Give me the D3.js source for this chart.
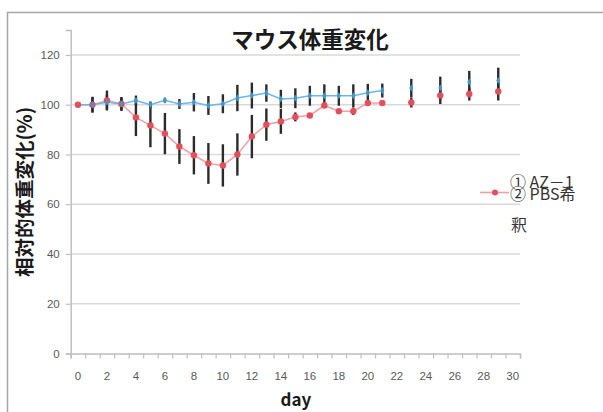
<!DOCTYPE html>
<html>
<head>
<meta charset="utf-8">
<script src="https://cdn.jsdelivr.net/npm/d3@7"></script>
<style>
  html, body { margin: 0; padding: 0; background: #fff; }
  svg { display: block; }
</style>
</head>
<body>
<svg id="chart" width="603" height="412"></svg>
<script>
// Days after treatment (0–29); after day 21 only odd days were measured
const days = d3.range(0, 30);

// ① AZ-1 group: relative body weight (%) and error
const azValues = [100, 100, 101, 100.3, 101.7, 100, 101.8, 100.3, 101, 99.7,
  100.4, 102.7, 103.7, 104.7, 102.3, 102.6, 103.6, 103.6, 103.6, 103.6,
  104.8, 105.7, null, 106.7, null, 106.7, null, 109.1, null, 109.7];
const azErrors = [0, 3, 3, 2.5, 2, 1.3, 1, 2, 3.7, 3.8,
  3.8, 5.3, 5.2, 3.5, 3.7, 4, 4, 4.6, 4, 4.6,
  3.6, 2.8, null, 3.7, null, 4.6, null, 4.5, null, 5.2];

// ② PBS希釈 group
const pbsValues = [100, 100, 101.7, 100.3, 94.9, 91.7, 88.4, 83.2, 79.7, 76.4,
  75.6, 80, 87.2, 92, 93.3, 95.1, 95.7, 99.7, 97.4, 97.4,
  100.7, 100.7, null, 100.9, null, 103.7, null, 104.3, null, 105.3];
const pbsErrors = [0, 3.2, 4, 2.8, 7.5, 8.8, 8.3, 7, 7.7, 8.2,
  8.5, 8.5, 8.7, 6.5, 5, 1.8, 1, 1, 1, 1.5,
  1, 0.8, null, 2, null, 3.4, null, 2.6, null, 3.6];

const xTicks = d3.range(0, 31, 2);
const yTicks = [0, 20, 40, 60, 80, 100, 120];

const title = "マウス体重変化";
const yLabel = "相対的体重変化(%)";
const xLabel = "day";
const legendLabels = ["① AZ－1", "② PBS希", "釈"];

const svg = d3.select("#chart");

// outer chart frame
svg.append("rect")
  .attr("x", 7.5).attr("y", 12.5)
  .attr("width", 700).attr("height", 500)
  .attr("fill", "none").attr("stroke", "#a6a6a6").attr("stroke-width", 1.5);

const x = d3.scaleLinear().domain([-0.5, 30.5]).range([70.7, 520]);
const y = d3.scaleLinear().domain([0, 130]).range([353.5, 30.1]);

// horizontal gridlines
svg.append("g")
  .selectAll("line")
  .data(yTicks.filter(t => t > 0))
  .join("line")
  .attr("x1", x(-0.5)).attr("x2", x(30.5))
  .attr("y1", d => y(d)).attr("y2", d => y(d))
  .attr("stroke", "#d9d9d9").attr("stroke-width", 1.5);

// y axis
const yAxis = svg.append("g")
  .attr("transform", `translate(${x(-0.5)},0)`)
  .call(d3.axisLeft(y).tickValues(yTicks).tickSize(5).tickPadding(6).tickFormat(d3.format("d")));
yAxis.select(".domain").attr("stroke", "#bfbfbf").attr("stroke-width", 1.5);
yAxis.selectAll(".tick line").attr("stroke", "#bfbfbf").attr("stroke-width", 1.2);
yAxis.selectAll(".tick text")
  .attr("fill", "#595959")
  .style("font-family", "'Liberation Sans', Arial, sans-serif")
  .style("font-size", "11.5px");

// x axis: category-style ticks between days, labels every two days
const xAxis = svg.append("g")
  .attr("transform", `translate(0,${y(0)})`)
  .call(d3.axisBottom(x).tickValues(d3.range(-0.5, 31, 1)).tickSize(5).tickFormat(""));
xAxis.select(".domain").attr("stroke", "#bfbfbf").attr("stroke-width", 1.5);
xAxis.selectAll(".tick line").attr("stroke", "#bfbfbf").attr("stroke-width", 1.2);

svg.append("g")
  .selectAll("text")
  .data(xTicks)
  .join("text")
  .attr("x", d => x(d))
  .attr("y", y(0) + 26)
  .attr("text-anchor", "middle")
  .attr("fill", "#595959")
  .style("font-family", "'Liberation Sans', Arial, sans-serif")
  .style("font-size", "11.5px")
  .text(d => d);

// build series records
function series(values, errors) {
  return days.map((d, i) => ({ day: d, v: values[i], e: errors[i] }));
}
const az = series(azValues, azErrors);
const pbs = series(pbsValues, pbsErrors);

// error bars
function drawErrors(data) {
  svg.append("g")
    .selectAll("line")
    .data(data.filter(d => d.v != null && d.e > 0))
    .join("line")
    .attr("x1", d => x(d.day)).attr("x2", d => x(d.day))
    .attr("y1", d => y(d.v + d.e)).attr("y2", d => y(d.v - d.e))
    .attr("stroke", "#2b2b2b").attr("stroke-width", 2.4);
}
drawErrors(pbs);
drawErrors(az);

const line = d3.line()
  .defined(d => d.v != null)
  .x(d => x(d.day))
  .y(d => y(d.v));

const pbsColor = "#e2505c";
const azColor = "#3d97d6";

// PBS line
svg.append("path")
  .datum(pbs)
  .attr("d", line)
  .attr("fill", "none")
  .attr("stroke", "#f2a0a5")
  .attr("stroke-width", 1.6);

// AZ-1 line
svg.append("path")
  .datum(az)
  .attr("d", line)
  .attr("fill", "none")
  .attr("stroke", "#6fb6e6")
  .attr("stroke-width", 1.6);

svg.append("g")
  .selectAll("circle")
  .data(pbs.filter(d => d.v != null))
  .join("circle")
  .attr("cx", d => x(d.day))
  .attr("cy", d => y(d.v))
  .attr("r", 3.2)
  .attr("fill", pbsColor);

svg.append("g")
  .selectAll("path")
  .data(az.filter(d => d.v != null && d.day > 0))
  .join("path")
  .attr("d", d3.symbol(d3.symbolDiamond, 14))
  .attr("transform", d => `translate(${x(d.day)},${y(d.v)})`)
  .attr("fill", azColor);

// title
svg.append("text")
  .attr("x", 310).attr("y", 48)
  .attr("text-anchor", "middle")
  .style("font-family", "'Noto Sans CJK JP', sans-serif")
  .style("font-weight", "bold")
  .style("font-size", "22.5px")
  .attr("fill", "#1a1a1a")
  .text(title);

// y-axis title
svg.append("text")
  .attr("transform", "translate(32,192) rotate(-90)")
  .attr("text-anchor", "middle")
  .style("font-family", "'Noto Sans CJK JP', sans-serif")
  .style("font-weight", "bold")
  .style("font-size", "19.5px")
  .attr("fill", "#1a1a1a")
  .text(yLabel);

// x-axis title
svg.append("text")
  .attr("x", 296).attr("y", 406)
  .attr("text-anchor", "middle")
  .style("font-family", "'Noto Sans CJK JP', sans-serif")
  .style("font-weight", "bold")
  .style("font-size", "17px")
  .attr("fill", "#1a1a1a")
  .text(xLabel);

// legend (entries crowd each other in the narrow legend box)
const legend = svg.append("g");
legend.append("line")
  .attr("x1", 480).attr("x2", 509)
  .attr("y1", 192.5).attr("y2", 192.5)
  .attr("stroke", "#f2a0a5").attr("stroke-width", 1.6);
legend.append("circle")
  .attr("cx", 495).attr("cy", 192.5).attr("r", 3)
  .attr("fill", pbsColor);

const legendFont = "'Noto Sans CJK JP', sans-serif";
legend.selectAll("text")
  .data(legendLabels)
  .join("text")
  .attr("x", (d, i) => i === 2 ? 511 : 510)
  .attr("y", (d, i) => [188, 200, 231][i])
  .style("font-family", legendFont)
  .style("font-size", "16px")
  .attr("fill", "#333")
  .text(d => d);
</script>
</body>
</html>
